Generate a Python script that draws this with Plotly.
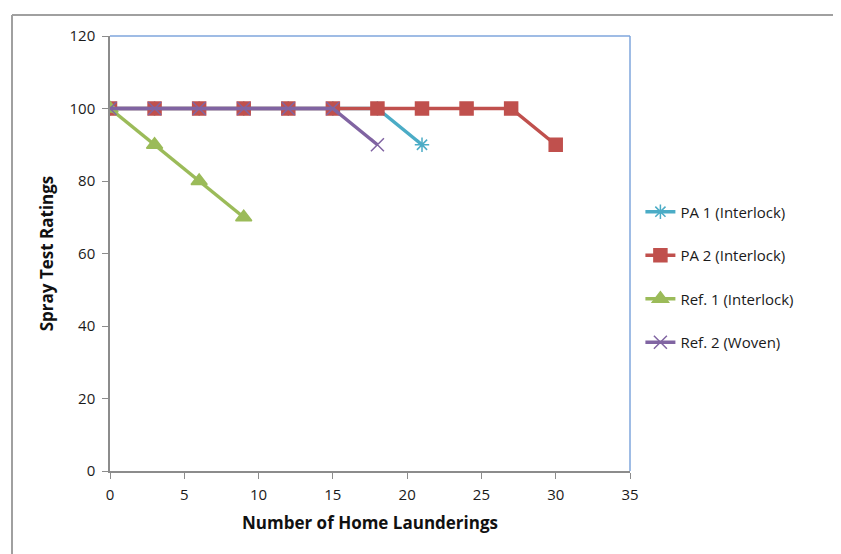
import plotly.graph_objects as go

pa1_x = [0, 3, 6, 9, 12, 15, 18, 21]
pa1_y = [100, 100, 100, 100, 100, 100, 100, 90]
pa2_x = [0, 3, 6, 9, 12, 15, 18, 21, 24, 27, 30]
pa2_y = [100, 100, 100, 100, 100, 100, 100, 100, 100, 100, 90]
ref1_x = [0, 3, 6, 9]
ref1_y = [100, 90, 80, 70]
ref2_x = [0, 3, 6, 9, 12, 15, 18]
ref2_y = [100, 100, 100, 100, 100, 100, 90]

names = ["PA 1 (Interlock)", "PA 2 (Interlock)", "Ref. 1 (Interlock)", "Ref. 2 (Woven)"]
colors = ["#4BACC6", "#C0504D", "#9BBB59", "#8064A2"]
symbols = ["asterisk-open", "square", "triangle-up", "x-thin-open"]
sizes = [12, 13, 14, 13]

fig = go.Figure()
for i, (xs, ys, name, c, s, sz) in enumerate(zip([pa1_x, pa2_x, ref1_x, ref2_x], [pa1_y, pa2_y, ref1_y, ref2_y],
                                                  names, colors, symbols, sizes)):
    fig.add_trace(go.Scatter(
        x=xs, y=ys, name=name, mode="lines+markers", legendgroup=f"g{i}",
        line=dict(color=c, width=3.5),
        marker=dict(symbol=s, size=sz, color=c, line=dict(color=c, width=1.5)),
    ))

# page body has an 8px offset
W, H = 833, 546
L, T = 102, 28
R = W - 622
B = H - 463
pw, ph = W - L - R, H - T - B

fig.update_layout(
    width=W, height=H,
    margin=dict(l=L, r=R, t=T, b=B),
    paper_bgcolor="white", plot_bgcolor="white",
    font=dict(family="Open Sans", size=15, color="#1a1a1a"),
    showlegend=True,
    legend=dict(x=1.02, y=0.446, xanchor="left", yanchor="middle",
                font=dict(size=15, color="#1a1a1a"), tracegroupgap=21,
                bgcolor="rgba(0,0,0,0)"),
    xaxis=dict(range=[0, 35], dtick=5, tick0=0, showgrid=False, zeroline=False,
               showline=True, linecolor="#8c8c8c", linewidth=1.5,
               ticks="outside", ticklen=6, tickcolor="#8c8c8c", ticklabelstandoff=3,
               title=dict(text="<b>Number of Home Launderings</b>", font=dict(size=17, color="#111"), standoff=14),
               tickfont=dict(size=15)),
    yaxis=dict(range=[0, 120], dtick=20, tick0=0, showgrid=False, zeroline=False,
               showline=True, linecolor="#8c8c8c", linewidth=1.5,
               ticks="outside", ticklen=6, tickcolor="#8c8c8c", ticklabelstandoff=4,
               title=dict(text="<b>Spray Test Ratings</b>", font=dict(size=17, color="#111"), standoff=12),
               tickfont=dict(size=15)),
    shapes=[
        dict(type="line", xref="paper", yref="paper", x0=0, x1=1, y0=1, y1=1,
             line=dict(color="#7fa6dc", width=1.5)),
        dict(type="line", xref="paper", yref="paper", x0=1, x1=1, y0=0, y1=1,
             line=dict(color="#7fa6dc", width=1.5)),
        dict(type="line", xref="paper", yref="paper", x0=(4 - L) / pw, x1=(W - L) / pw,
             y0=1 + (T - 7) / ph, y1=1 + (T - 7) / ph, line=dict(color="#a0a0a0", width=2)),
        dict(type="line", xref="paper", yref="paper", x0=(4 - L) / pw, x1=(4 - L) / pw,
             y0=1 + (T - 7) / ph, y1=-(B + 5) / ph, line=dict(color="#a0a0a0", width=2)),
    ],
)

fig.write_html("out.html")
